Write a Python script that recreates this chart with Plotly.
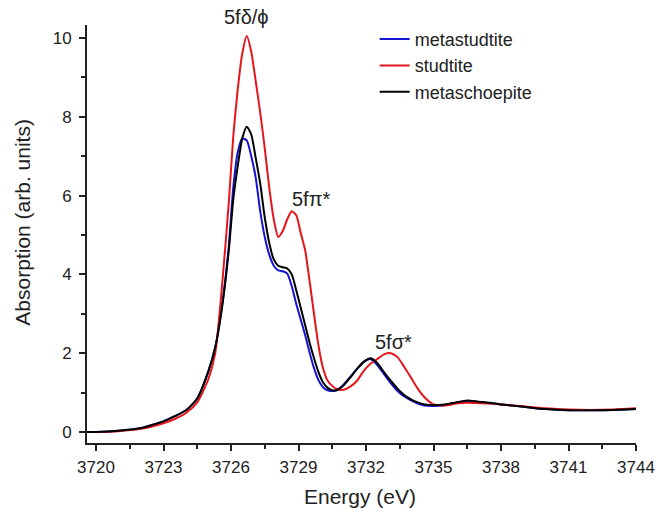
import plotly.graph_objects as go

energy = [3719.6, 3720, 3721, 3722, 3722.5, 3723, 3723.5, 3724, 3724.5, 3725, 3725.3, 3725.6,
          3725.9, 3726.1, 3726.3, 3726.5, 3726.7, 3726.9, 3727.1, 3727.3, 3727.5, 3727.7, 3727.9,
          3728.1, 3728.3, 3728.5, 3728.7, 3728.9, 3729.1, 3729.3, 3729.5, 3729.7, 3729.9, 3730.1,
          3730.3, 3730.5, 3730.7, 3731.0, 3731.3, 3731.6, 3731.9, 3732.2, 3732.5, 3732.8, 3733.1,
          3733.4, 3733.7, 3734.0, 3734.3, 3734.6, 3735.0, 3735.5, 3736.0, 3736.5, 3737.0, 3737.5,
          3738, 3739, 3740, 3741, 3742, 3743, 3744]

metastudtite = [0.0, 0.0, 0.03, 0.1, 0.18, 0.27, 0.4, 0.55, 0.85, 1.55, 2.15, 3.2,
                4.7, 6.2, 7.1, 7.45, 7.4, 7.0, 6.45, 5.6, 4.95, 4.5, 4.22,
                4.1, 4.08, 4.02, 3.7, 3.25, 2.85, 2.45, 2.0, 1.6, 1.3, 1.13,
                1.06, 1.04, 1.06, 1.2, 1.4, 1.6, 1.78, 1.85, 1.7, 1.47, 1.24,
                1.04, 0.9, 0.8, 0.72, 0.67, 0.66, 0.68, 0.74, 0.78, 0.76, 0.73,
                0.7, 0.64, 0.58, 0.55, 0.55, 0.56, 0.58]

studtite = [0.0, 0.0, 0.02, 0.08, 0.14, 0.22, 0.33, 0.48, 0.75, 1.35, 2.0, 3.7,
            5.8, 7.5, 8.7, 9.6, 10.05, 9.65, 8.9, 8.1, 7.2, 6.2, 5.4,
            4.95, 5.1, 5.4, 5.6, 5.5, 5.05, 4.6, 3.8, 2.95, 2.15, 1.6,
            1.3, 1.17, 1.09, 1.07, 1.15, 1.3, 1.55, 1.73, 1.85, 1.97, 2.0,
            1.9, 1.65, 1.38, 1.1, 0.88, 0.7, 0.67, 0.72, 0.74, 0.73, 0.72,
            0.7, 0.65, 0.6, 0.57, 0.56, 0.57, 0.6]

metaschoepite = [0.0, 0.0, 0.03, 0.1, 0.18, 0.27, 0.4, 0.55, 0.85, 1.55, 2.15, 3.15,
                 4.6, 5.9, 6.75, 7.45, 7.75, 7.55, 6.95, 6.3, 5.45, 4.8, 4.38,
                 4.22, 4.18, 4.15, 4.0, 3.6, 3.15, 2.7, 2.25, 1.85, 1.5, 1.25,
                 1.12, 1.06, 1.06, 1.18, 1.38, 1.6, 1.78, 1.87, 1.75, 1.52, 1.3,
                 1.1, 0.94, 0.83, 0.75, 0.7, 0.68, 0.7, 0.75, 0.8, 0.77, 0.74,
                 0.7, 0.64, 0.58, 0.55, 0.55, 0.56, 0.58]

series_names = ["metastudtite", "studtite", "metaschoepite"]
series_colors = ["#1414d2", "#e4161c", "#000000"]
x_ticks = [3720, 3723, 3726, 3729, 3732, 3735, 3738, 3741, 3744]
y_ticks = [0, 2, 4, 6, 8, 10]
x_range = [3719.6, 3744]
y_range = [-0.28, 10.33]

peak_labels = ["5fδ/ϕ", "5fπ*", "5fσ*"]
peak_x = [3726.7, 3729.55, 3733.2]
peak_y = [10.53, 5.91, 2.28]

TXT = "#222222"
fig = go.Figure()
for name, ys, col in zip(series_names, [metastudtite, studtite, metaschoepite], series_colors):
    fig.add_trace(go.Scatter(x=energy, y=ys, mode="lines", name=name,
                             line=dict(color=col, width=2, shape="spline", smoothing=0.6)))

for lab, px, py in zip(peak_labels, peak_x, peak_y):
    # y given in data units, converted to paper fraction so labels above the range still show
    fig.add_annotation(x=px, xref="x", yref="paper",
                       y=(py - y_range[0]) / (y_range[1] - y_range[0]),
                       text=lab, showarrow=False, xanchor="center", yanchor="middle",
                       font=dict(family="Arial", size=20, color=TXT))

# axis titles as annotations (the y title is not centred on the axis in the original)
fig.add_annotation(xref="paper", yref="paper", x=-0.117, y=0.529, xanchor="center", yanchor="middle",
                   text="Absorption (arb. units)", textangle=-90, showarrow=False,
                   font=dict(family="Arial", size=21, color=TXT))
fig.add_annotation(xref="paper", yref="paper", x=0.497, y=-0.127, xanchor="center", yanchor="middle",
                   text="Energy (eV)", showarrow=False,
                   font=dict(family="Arial", size=21, color=TXT))

axis_font = dict(family="Arial", size=17, color=TXT)
fig.update_layout(
    width=656, height=508,
    margin=dict(l=87, r=20, t=25, b=65),
    paper_bgcolor="white", plot_bgcolor="white",
    showlegend=True,
    legend=dict(x=0.524, y=1.01, xanchor="left", yanchor="top",
                font=dict(family="Arial", size=18, color=TXT),
                bgcolor="rgba(0,0,0,0)", tracegroupgap=0, itemwidth=30),
    xaxis=dict(range=x_range, tickvals=x_ticks, ticks="outside", ticklen=6, tickwidth=2,
               showline=True, linecolor=TXT, linewidth=2, showgrid=False, zeroline=False,
               tickfont=axis_font, tickcolor=TXT, automargin=False, ticklabelstandoff=2,
               minor=dict(dtick=1.5, tick0=3720, ticks="outside", ticklen=4, tickwidth=2, tickcolor=TXT)),
    yaxis=dict(range=y_range, tickvals=y_ticks, ticks="outside", ticklen=6, tickwidth=2,
               showline=True, linecolor=TXT, linewidth=2, showgrid=False, zeroline=False,
               tickfont=axis_font, tickcolor=TXT, automargin=False, ticklabelstandoff=4,
               minor=dict(dtick=1, tick0=0, ticks="outside", ticklen=4, tickwidth=2, tickcolor=TXT)),
)
fig.write_html("out.html")
